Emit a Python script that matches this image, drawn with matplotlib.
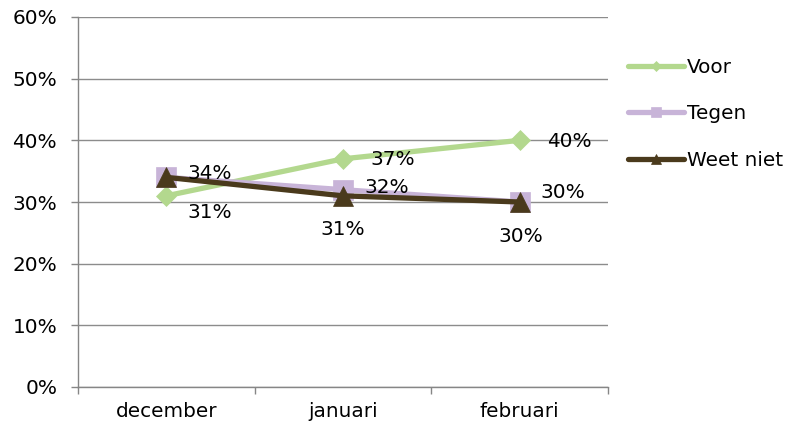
import matplotlib
matplotlib.use("Agg")
import matplotlib.pyplot as plt
from matplotlib.ticker import FuncFormatter, FixedLocator

categories = ["december", "januari", "februari"]
series_names = ["Voor", "Tegen", "Weet niet"]
voor = [31, 37, 40]
tegen = [34, 32, 30]
weet_niet = [34, 31, 30]
yticks = [0, 10, 20, 30, 40, 50, 60]

colors = ["#B3D88E", "#C8B4D8", "#4A3A1C"]
markers = ["D", "s", "^"]
msizes = [10, 14, 14]
# label placement per point: (dx px, dy px, ha) or None
label_pos = [
    [(21, -17, "left"), (27, -1, "left"), (27, -1, "left")],
    [(21, 4, "left"), (21, 2, "left"), (21, 10, "left")],
    [None, (0, -34, "center"), (1, -35, "center")],
]

fs = 14.4
plt.rcParams["font.family"] = ["DejaVu Sans"]
fig = plt.figure(figsize=(7.92, 4.30), dpi=100)
ax = fig.add_axes([78/792, 1-387/430, 530/792, 370/430])

x = list(range(len(categories)))
data = [voor, tegen, weet_niet]
handles = []
for i, (vals, name) in enumerate(zip(data, series_names)):
    h, = ax.plot(x, vals, color=colors[i], lw=3.8, marker=markers[i],
                 ms=msizes[i], mec=colors[i], mfc=colors[i], mew=0.5,
                 label=name, zorder=3+i, solid_capstyle="round")
    handles.append(h)
    for j, v in enumerate(vals):
        lp = label_pos[i][j]
        if lp is None:
            continue
        ax.annotate(f"{v}%", (x[j], v), xytext=(lp[0], lp[1]),
                    textcoords="offset pixels", ha=lp[2], va="center",
                    fontsize=fs, color="black", zorder=10)

ax.set_xlim(-0.5, len(categories)-0.5)
ax.set_ylim(0, 60)
ax.set_yticks(yticks)
ax.yaxis.set_major_formatter(FuncFormatter(lambda v, p: f"{int(v)}%"))
ax.set_xticks(x)
ax.set_xticklabels(categories)
ax.xaxis.set_minor_locator(FixedLocator([-0.5, 0.5, 1.5, 2.5]))
ax.tick_params(axis="x", which="major", length=0, pad=11, labelsize=fs)
ax.tick_params(axis="x", which="minor", length=5, color="#868686", width=1)
ax.tick_params(axis="y", length=5, color="#868686", width=1, labelsize=fs, pad=10)
ax.grid(axis="y", color="#8C8C8C", lw=1)
ax.set_axisbelow(True)
for s in ["top", "right"]:
    ax.spines[s].set_visible(False)
for s in ["left", "bottom"]:
    ax.spines[s].set_color("#868686")
    ax.spines[s].set_linewidth(1)

leg = fig.legend(handles=handles, loc="upper left",
                 bbox_to_anchor=(622/792, 1-52/430), frameon=False,
                 fontsize=fs, handlelength=2.8, handletextpad=0.15,
                 labelspacing=1.37, markerscale=0.55, borderaxespad=0,
                 borderpad=0.3)

fig.savefig("out.png", dpi=100)
